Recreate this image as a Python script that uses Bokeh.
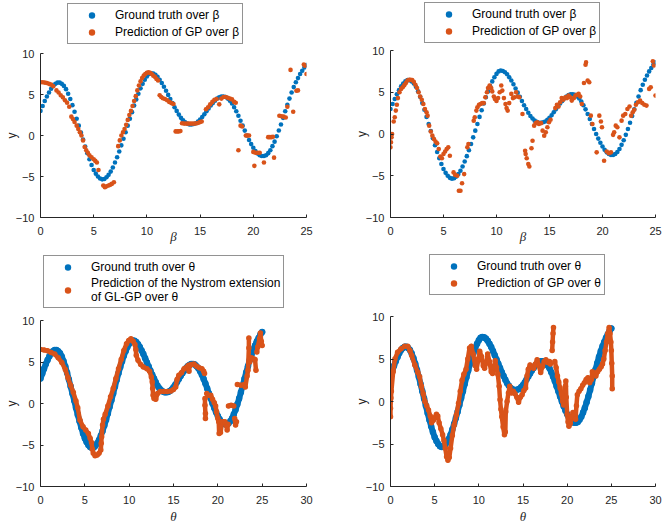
import math
from bokeh.plotting import figure
from bokeh.models import Legend, LegendItem, FixedTicker
from bokeh.layouts import column, row
from bokeh.embed import file_html
from bokeh.resources import INLINE

nan = float("nan")
BLUE = "#0072BD"
ORANGE = "#D95319"
AX = "#262626"

# ground truth (same function in all panels), read at 0.2 steps
GT_X = [round(0.2 * i, 1) for i in range(126)]
GT_Y = [3.0, 3.6, 4.2, 4.75, 5.25, 5.7, 6.05, 6.3, 6.45, 6.45,
        6.3, 6.05, 5.65, 5.1, 4.45, 3.7, 2.9, 2.05, 1.2, 0.35,
        -0.5, -1.35, -2.15, -2.9, -3.6, -4.2, -4.65, -5.0, -5.25, -5.35,
        -5.3, -5.1, -4.8, -4.4, -3.9, -3.3, -2.65, -1.95, -1.2, -0.4,
        0.4, 1.2, 2.05, 2.85, 3.65, 4.4, 5.1, 5.75, 6.3, 6.8,
        7.2, 7.5, 7.6, 7.55, 7.4, 7.15, 6.8, 6.4, 5.95, 5.45,
        4.95, 4.45, 3.95, 3.45, 3.0, 2.55, 2.15, 1.85, 1.6, 1.45,
        1.35, 1.35, 1.4, 1.5, 1.7, 1.95, 2.25, 2.6, 2.95, 3.3,
        3.65, 3.95, 4.25, 4.5, 4.65, 4.75, 4.75, 4.7, 4.5, 4.25,
        3.9, 3.45, 2.95, 2.4, 1.8, 1.2, 0.6, 0.0, -0.55, -1.05,
        -1.5, -1.9, -2.2, -2.4, -2.5, -2.5, -2.4, -2.15, -1.8, -1.3,
        -0.75, -0.1, 0.6, 1.35, 2.15, 2.95, 3.75, 4.5, 5.25, 5.9,
        6.5, 7.0, 7.5, 7.9, 8.3, 8.6]

# top-left: prediction of GP over beta
TL_X = [0.0, 0.2, 0.4, 0.6, 0.8, 1.0, 1.2, 1.5, 1.7, 1.9, 2.1, 2.3, 2.5, 2.7, 2.9, 3.05, 3.2, 3.4,
        3.55, 3.7, 3.85, 4.0, 4.15, 4.3, 4.45, 4.6, 4.8, 5.0, 5.15, 5.3, 5.45, 5.9, 6.05, 6.2, 6.4,
        6.55, 6.7, 6.9, 7.3, 7.45, 7.6, 7.75, 7.9, 8.05, 8.2, 8.35, 8.5, 8.65, 8.8, 8.95, 9.1, 9.25,
        9.4, 9.55, 9.7, 9.85, 10.0, 10.15, 10.3, 10.45, 10.6, 10.75, 10.9, 11.05, 11.2, 11.35, 11.5,
        11.7, 11.9, 12.1, 12.3, 12.5, 12.7, 12.85, 13.0, 13.15, 13.3, 13.5, 13.7, 13.9, 14.1, 14.3,
        14.5, 14.7, 14.85, 15.0, 15.15, 15.55, 15.75, 15.95, 16.15, 16.35, 16.55, 16.8, 17.0, 17.2,
        17.4, 17.6, 17.8, 18.0, 18.2, 18.35, 18.6, 18.8, 18.95, 19.3, 19.45, 19.6, 20.0, 20.1, 20.2,
        20.4, 20.6, 21.0, 21.4, 21.55, 21.7, 21.85, 21.95, 22.45, 22.65, 22.85, 23.05, 23.2, 23.5,
        23.75, 24.05, 24.2, 24.75, 24.85, 25.0]
TL_Y = [6.5, 6.5, 6.45, 6.4, 6.3, 6.2, 6.0, 5.5, 5.25, 4.9, 4.65, 4.3, 4.0, 3.5, 2.3, 2.0, 1.65, 1.2,
        0.8, 0.4, 0.0, -0.6, -1.4, -1.8, -2.1, -2.4, -2.65, -2.9, -3.1, -3.3, -4.2, -6.1, -6.3, -6.2,
        -6.1, -6.0, -5.9, -5.7, -1.3, -0.6, 0.0, 0.4, 0.8, 1.3, 1.9, 2.5, 3.0, 3.6, 4.2, 4.8, 5.5, 6.1,
        6.6, 7.0, 7.3, 7.5, 7.65, 7.7, 7.65, 7.5, 7.3, 7.15, 6.9, 6.7, 4.9, 4.7, 4.55,
        4.45, 4.3, 4.1, 3.95, 3.85, 0.5, 0.5, 0.5, 0.55, 1.5, 1.45, 1.45, 1.45, 1.45, 1.45,
        1.45, 1.5, 1.55, 1.65, 1.7, 3.2, 3.45, 3.8, 4.1, 4.35, 4.45, 3.8, 4.5, 4.7,
        4.7, 4.6, 4.5, 4.4, 4.1, 4.0, -1.8, 1.2, 1.1, 0.0, 0.0, 0.0, -2.0, -3.7, -2.1,
        -2.1, -2.1, -3.3, -0.2, -0.2, -0.2, -0.15, -2.7, 2.4, 2.35, 2.3, 2.2, 3.5, 8.0,
        2.9, 5.45, 5.5, 8.65, 8.5, 7.5]

# top-right: prediction of GP over beta
TR_X = [0.0, 0.05, 0.1, 0.15, 0.3, 0.4, 0.5, 0.6, 0.7, 0.85, 1.0, 1.15, 1.3, 1.45, 1.6, 1.75, 1.9,
        2.05, 2.2, 2.35, 2.5, 2.65, 2.8, 2.95, 3.1, 3.25, 3.4, 3.5, 3.65, 3.8, 3.95, 4.1, 4.25, 4.4,
        4.55, 4.7, 4.85, 5.0, 5.15, 5.3, 5.45, 5.6, 5.95, 6.1, 6.3, 6.45, 6.6, 6.75, 6.95, 7.25, 7.35,
        7.85, 7.95, 8.1, 8.2, 8.35, 8.5, 8.65, 8.8, 8.95, 9.1, 9.2, 9.35, 9.5, 9.6, 9.75, 9.85, 10.0,
        10.15, 10.3, 10.45, 10.55, 10.7, 10.85, 10.95, 11.05, 11.2, 11.4, 11.55, 11.7, 11.85, 12.0,
        12.15, 12.45, 12.7, 12.75, 12.85, 13.0, 13.1, 13.3, 13.4, 13.55, 13.7, 13.85, 14.0, 14.2,
        14.35, 14.5, 14.65, 14.8, 14.95, 15.1, 15.55, 15.7, 15.85, 16.0, 16.15, 16.3, 16.5, 16.65,
        16.8, 16.95, 17.1, 17.3, 17.45, 17.6, 17.75, 17.9, 18.05, 18.25, 18.4, 18.45, 18.6, 18.75,
        18.9, 19.05, 19.45, 19.7, 19.85, 19.95, 20.15, 20.4, 20.6, 20.8, 21.0, 21.1, 21.25, 21.4,
        21.6, 21.8, 21.95, 22.15, 22.35, 22.55, 22.7, 22.85, 23.0, 23.15, 23.35, 23.55, 23.75,
        23.95, 24.15, 24.4, 24.55, 24.75, 24.85, 25.0]
TR_Y = [-1.6, -1.0, -0.4, 0.0, 1.5, 2.0, 2.8, 3.5, 4.3, 5.0, 5.4, 5.6, 5.85, 6.1, 6.4, 6.5, 6.5,
        6.45, 6.25, 5.9, 5.5, 5.0, 4.5, 4.1, 3.6, 3.0, 2.6, 2.2, 1.0, 0.3, -0.2, -0.6, -0.9, -1.1,
        -1.8, -2.7, -2.9, -2.4, -2.1, -1.8, -1.6, -2.6, -4.6, -4.9, -5.0, -6.8, -6.8, -5.9, -4.8, -1.6, -1.2,
        1.6, 2.0, 2.8, 3.2, 3.5, 3.6, 3.7, 3.7, 4.4, 5.0, 5.5, 5.8, 5.5, 5.1, 4.5, 4.2, 3.95,
        4.3, 5.0, 5.8, 5.2, 4.3, 3.6, 3.1, 2.8, 3.7, 4.8, 4.3, 4.4, 5.0, 4.5,
        4.4, 2.4, -2.0, -2.4, -2.9, -3.6, -3.9, -1.7, -0.8, 1.0, 1.3, 1.4, 1.2, 1.3,
        0.4, -0.2, 0.2, 0.8, 1.4, 1.7, 3.1, 3.5, 3.3, 3.8, 4.3, 4.1, 4.4, 4.3,
        4.6, 4.4, 4.0, 4.3, 4.6, 4.7, 4.8, 4.5, 3.6, 6.1, 8.3, 8.6, 6.4, 6.2,
        2.2, 1.2, -2.2, 2.2, 1.5, 0.8, -3.2, -2.1, -2.3, -2.2, -0.1, 0.2, 1.0, 0.8,
        -0.4, 1.6, 2.2, 2.4, 3.0, 3.3, 2.2, 2.6, 2.9, 3.5, 3.8, 4.0, 3.7,
        3.5, 3.4, 5.4, 5.6, 8.7, 8.2, 4.6]

# bottom-left: Nystrom extension of GL-GP over theta (nan = gap in the trace)
BL_X = [0.0, 0.4, 0.8, 1.2, 1.6, 2.0, 2.4, 2.8, 3.1, 3.4, 3.7, 4.0, 4.2, 4.45, 4.8, 5.1, 5.4, 5.6,
        5.75, 5.85, 5.95, 6.15, 6.4, 6.6, 6.8, 6.85, 6.9, 7.0, 7.1, 7.3, 7.6, 7.9, 8.2, 8.5, 8.8, 9.1,
        9.4, 9.7, 9.95, 10.2, 10.45, 10.65, 10.75, 10.8, 11.0, 11.3, 11.6, 12.0, 12.3, 12.5, 12.6,
        12.65, 12.7, 12.8, 13.0, 13.2, 13.5, 13.9, 14.3, 14.7, 15.0, 15.25, 15.4, 15.6, 15.9, 16.2,
        16.5, 16.7, 16.75, 16.8, 17.0, 17.3, 17.6, 17.9, 18.2, 18.4, 18.5, nan,
        18.55, 18.55, 18.6, 18.6, nan,
        18.75, 18.9, 19.2, 19.4, 19.6, 19.75, 19.85, 20.0, 20.1, 20.15, 20.3, 20.5, 20.8, 21.0,
        21.05, 21.15, nan, 21.2, 21.5, 21.8, nan, 21.9, 22.0, 22.1, nan,
        22.2, 22.6, 23.0, 23.1, 23.3, 23.4, 23.5, 23.5, nan,
        23.6, 23.8, 24.0, 24.2, 24.3, nan, 24.4, 24.5, 24.7, 24.8, 24.9, 25.0]
BL_Y = [6.5, 6.45, 6.35, 6.15, 5.95, 5.5, 4.95, 4.1, 3.1, 2.2, 1.35, 0.3, -0.5, -2.0, -2.8, -3.2, -3.6, -4.2,
        -4.7, -5.5, -6.0, -6.3, -6.2, -6.0, -5.6, -4.8, -4.0, -2.6, -1.9, -1.3, -0.3, 0.8, 1.8, 3.0, 4.2, 5.3,
        6.4, 7.2, 7.6, 7.8, 7.5, 7.1, 6.5, 5.8, 5.2, 4.7, 4.4, 4.2, 3.9, 3.2, 2.6,
        1.8, 1.0, 0.6, 0.5, 1.2, 1.45, 1.45, 1.45, 1.5, 1.7, 2.0, 2.9, 3.4, 3.7, 4.2,
        4.4, 4.6, 3.9, 4.5, 4.7, 4.75, 4.5, 4.3, 4.2, 3.9, 3.6, nan,
        0.6, -0.2, -1.2, -1.8, nan,
        1.2, 1.0, 1.0, 0.5, 0.1, -0.3, -1.0, -1.8, -2.2, -3.6, -3.5, -2.2, -2.2, -2.7,
        -3.2, -2.5, nan, -0.3, -0.2, -0.3, nan, -1.8, -2.6, -2.2, nan,
        2.3, 2.2, 2.3, 2.0, 3.3, 4.0, 6.7, 7.9, nan,
        5.0, 5.5, 5.4, 5.3, 4.0, nan, 6.2, 6.8, 7.8, 8.5, 7.5, 7.0]

# bottom-right: prediction of GP over theta
BR_X = [0.0, 0.0, 0.05, 0.1, 0.3, 0.5, 0.8, 1.2, 1.6, 1.95, 2.2, 2.4, 2.75, 3.1, 3.3, 3.5, 3.7, 3.9,
        4.1, 4.3, 4.5, 4.65, 4.85, 5.0, 5.2, 5.35, 5.5, 5.7, 5.9, 6.05, 6.2, 6.35, 6.5, 6.65, 6.8, 7.0,
        7.2, 7.45, 7.7, 7.9, 8.1, 8.3, 8.55, 8.75, 8.95, 9.15, 9.35, 9.6, 9.75, 9.95, 10.1, 10.3, 10.5,
        10.65, 10.85, 11.0, 11.2, 11.4, 11.55, 11.7, 11.85, 12.0, 12.15, 12.3, 12.4, 12.5, 12.6, 12.75,
        12.9, 13.0, 13.05, 13.2, 13.35, 13.5, 13.7, 13.9, 14.1, 14.3, 14.5, 14.7, 14.9, 15.1, 15.3,
        15.45, 15.6, 15.8, 16.0, 16.2, 16.4, 16.6, 16.8, 17.0, 17.2, 17.4, 17.6, 17.8, 18.0, 18.1, nan,
        18.3, 18.35, 18.4, 18.45, nan,
        18.6, 18.75, 18.9, 19.05, 19.2, 19.35, 19.5, 19.6, 19.7, 19.8, 19.85, 19.9, 20.0, 20.1, 20.2,
        20.35, 20.5, 20.65, 20.8, 20.95, 21.05, 21.15, 21.35, 21.55, 21.75, 21.95, 22.15, 22.35, 22.55,
        22.75, 22.85, 23.05, 23.25, 23.45, 23.65, 23.85, 24.0, 24.15, 24.3, 24.45, 24.6, 24.75, 24.85,
        24.95, 25.0, 25.05, 25.1, 25.1]
BR_Y = [-1.8, -0.8, 0.4, 1.2, 3.5, 5.0, 5.8, 6.2, 6.5, 6.5, 6.0, 5.4, 4.3, 3.4, 2.9, 1.8, 0.9, 0.0,
        -0.5, -1.0, -1.7, -2.5, -2.2, -1.9, -1.5, -1.7, -2.5, -3.2, -3.9, -4.6, -5.5, -6.5, -6.9, -6.6, -5.5, -4.0,
        -2.8, -1.6, -0.2, 1.2, 2.5, 3.2, 3.8, 5.0, 6.3, 6.5, 5.6, 4.2, 3.8, 5.0, 5.9, 5.3, 4.2,
        3.9, 4.6, 5.6, 4.7, 3.5, 3.3, 4.0, 4.8, 4.0, 3.2, 1.8, 0.2, -0.9, -1.8, -3.0,
        -3.9, -3.6, -1.2, 0.0, 1.0, 1.8, 1.0, 1.2, 0.9, 0.5, -0.1, 0.5, 0.8, 1.3, 1.6,
        3.0, 3.8, 4.3, 4.1, 3.9, 4.4, 4.9, 4.2, 3.4, 4.1, 4.7, 4.9, 4.6, 4.7, 4.4, nan,
        6.0, 7.0, 8.0, 8.7, nan,
        4.7, 4.0, 3.0, 2.3, 1.6, 0.9, 0.0, -0.4, 0.6, 1.8, 2.4, 0.5, -1.5, -2.4, -2.9,
        -2.6, -1.8, -1.3, -1.7, -2.1, -0.5, 0.8, 1.2, 1.5, 1.9, 2.2, 2.6, 2.8, 2.2,
        2.6, 3.5, 3.2, 3.0, 3.5, 3.8, 4.1, 4.4, 5.0, 6.0, 7.0, 8.0, 8.7, 8.0,
        7.0, 6.0, 4.5, 3.0, 1.5]

X_TICKS_TOP = [0, 5, 10, 15, 20, 25]
X_TICKS_BOTTOM = [0, 5, 10, 15, 20, 25, 30]
Y_TICKS = [-10, -5, 0, 5, 10]

LEG_TL = ["Ground truth over β", "Prediction of GP over β"]
LEG_TR = ["Ground truth over β", "Prediction of GP over β"]
LEG_BL = ["Ground truth over θ", "Prediction of the Nystrom extension\nof GL-GP over θ"]
LEG_BR = ["Ground truth over θ", "Prediction of GP over θ"]

FONT = "Liberation Sans"


def plot_panel(w, h, bl, br, bt, bb, x_end, xticks, xlabel, px, py, dense, lab_standoff):
    p = figure(width=w, height=h, x_range=(0, x_end), y_range=(-10, 10),
               output_backend="svg", toolbar_location=None,
               min_border_left=bl, min_border_right=br,
               min_border_top=bt, min_border_bottom=bb)
    p.outline_line_color = None
    p.grid.visible = False
    p.xaxis.ticker = FixedTicker(ticks=xticks)
    p.yaxis.ticker = FixedTicker(ticks=Y_TICKS)
    for ax in (p.xaxis, p.yaxis):
        ax.axis_line_color = AX
        ax.axis_line_width = 1
        ax.major_tick_line_color = AX
        ax.major_tick_in = 3
        ax.major_tick_out = 0
        ax.minor_tick_line_color = None
        ax.major_label_text_font = FONT
        ax.major_label_text_font_size = "11px"
        ax.major_label_text_color = AX
    p.xaxis.major_label_standoff = 9
    p.yaxis.major_label_standoff = 6
    p.xaxis.axis_label = xlabel
    p.xaxis.axis_label_text_font = "Liberation Serif"
    p.xaxis.axis_label_text_font_style = "italic"
    p.xaxis.axis_label_text_font_size = "13px"
    p.xaxis.axis_label_text_color = AX
    p.xaxis.axis_label_standoff = lab_standoff
    p.yaxis.axis_label = "y"
    p.yaxis.axis_label_text_font = FONT
    p.yaxis.axis_label_text_font_style = "normal"
    p.yaxis.axis_label_text_font_size = "12px"
    p.yaxis.axis_label_text_color = AX
    p.yaxis.axis_label_standoff = -6

    if dense:
        p.line(GT_X, GT_Y, line_width=6, color=BLUE, line_join="round", line_cap="round")
        p.scatter(GT_X, GT_Y, size=6.5, color=BLUE, line_color=None)
        p.line(px, py, line_width=4.5, color=ORANGE, line_join="round", line_cap="round")
        p.scatter(px, py, size=5.5, color=ORANGE, line_color=None)
    else:
        p.scatter(GT_X, GT_Y, size=4.6, color=BLUE, line_color=None)
        p.scatter(px, py, size=4.6, color=ORANGE, line_color=None)
    return p


def legend_panel(w, h, box_left, px, py, labels):
    # a strip that only holds the legend; its data range is far away from the data,
    # its frame is aligned with the frame of the plot below it
    p = figure(width=w, height=h, x_range=(1000, 1001), y_range=(1000, 1001),
               x_axis_type=None, y_axis_type=None,
               output_backend="svg", toolbar_location=None,
               min_border_left=0, min_border_top=0,
               min_border_right=0, min_border_bottom=0)
    p.outline_line_color = None
    p.grid.visible = False
    g1 = p.scatter(GT_X, GT_Y, size=6, color=BLUE, line_color=None)
    g2 = p.scatter(px, py, size=6, color=ORANGE, line_color=None)
    leg = Legend(items=[LegendItem(label=labels[0], renderers=[g1], index=0),
                        LegendItem(label=labels[1], renderers=[g2], index=0)],
                 location=(box_left, 1), orientation="vertical")
    leg.border_line_color = AX
    leg.border_line_width = 0.8
    leg.background_fill_color = "white"
    leg.background_fill_alpha = 1
    leg.label_text_font = FONT
    leg.label_text_font_size = "12px"
    leg.label_text_color = "black"
    leg.padding = 3
    leg.spacing = 1
    leg.margin = 0
    leg.glyph_width = 41
    leg.glyph_height = 16
    leg.label_height = 16
    leg.label_standoff = 3
    p.add_layout(leg)
    return p


tl_leg = legend_panel(332, 45, 27, TL_X, TL_Y, LEG_TL)
tl = plot_panel(332, 205, 40, 26, 8, 33, 25, X_TICKS_TOP, "β", TL_X, TL_Y, False, -9)
tr_leg = legend_panel(332, 44, 34, TR_X, TR_Y, LEG_TR)
tr = plot_panel(332, 206, 58, 9, 6, 33, 25, X_TICKS_TOP, "β", TR_X, TR_Y, False, -9)
bl_leg = legend_panel(332, 59, 3, BL_X, BL_Y, LEG_BL)
bl = plot_panel(332, 217, 40, 26, 11, 39, 30, X_TICKS_BOTTOM, "θ", BL_X, BL_Y, True, 2)
br_leg = legend_panel(332, 46, 39, BR_X, BR_Y, LEG_BR)
br = plot_panel(332, 230, 58, 9, 20, 39, 30, X_TICKS_BOTTOM, "θ", BR_X, BR_Y, True, 2)

page = column(
    row(column(tl_leg, tl), column(tr_leg, tr)),
    row(column(bl_leg, bl), column(br_leg, br)),
)

open("out.html", "w").write(file_html(page, INLINE))
